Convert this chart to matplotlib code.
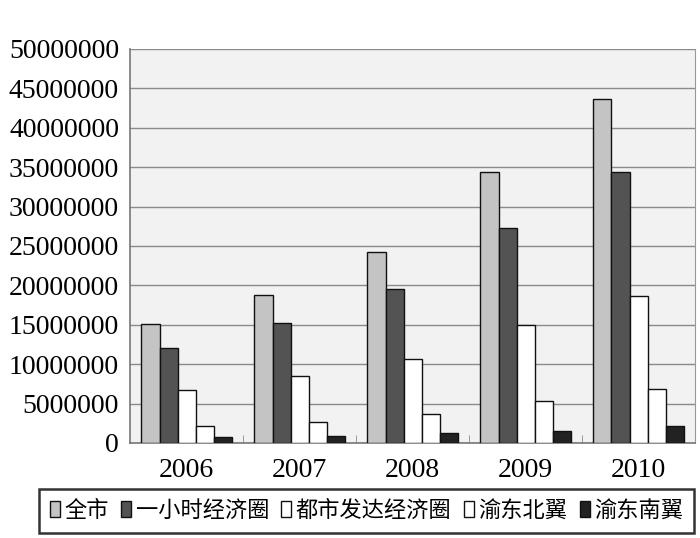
import matplotlib
matplotlib.use("Agg")
import matplotlib.pyplot as plt
import numpy as np
from matplotlib.ticker import FixedLocator

years = ["2006", "2007", "2008", "2009", "2010"]
series_names = ["全市", "一小时经济圈", "都市发达经济圈", "渝东北翼", "渝东南翼"]
quanshi = [15050000, 18800000, 24200000, 34350000, 43600000]
yixiaoshi = [12050000, 15200000, 19500000, 27300000, 34350000]
dushi = [6700000, 8500000, 10700000, 15000000, 18600000]
yudongbei = [2160000, 2660000, 3700000, 5370000, 6800000]
yudongnan = [760000, 930000, 1300000, 1570000, 2100000]
yticks = [0, 5000000, 10000000, 15000000, 20000000, 25000000,
          30000000, 35000000, 40000000, 45000000, 50000000]

series = [quanshi, yixiaoshi, dushi, yudongbei, yudongnan]
colors = ["#c4c4c4", "#535353", "#ffffff", "#ffffff", "#222222"]

plt.rcParams['font.family'] = ['Liberation Serif', 'Noto Sans CJK SC']

fig = plt.figure(figsize=(7.0, 5.38), dpi=100)
ax = fig.add_axes([0.186, 0.1766, 0.807, 0.7324])
ax.set_facecolor("#f2f2f2")

x = np.arange(len(years))
w = 0.16
for i, (vals, c, name) in enumerate(zip(series, colors, series_names)):
    ax.bar(x + (i - 2) * w, vals, width=w, color=c, edgecolor="#111111",
           linewidth=1.0, label=name, zorder=3)

ax.set_xlim(-0.5, len(years) - 0.5)
ax.set_ylim(0, 50000000)
ax.set_yticks(yticks)
ax.set_yticklabels([str(v) for v in yticks], fontsize=20)
ax.set_xticks(x)
ax.set_xticklabels(years, fontsize=20)
ax.xaxis.set_minor_locator(FixedLocator(np.arange(0.5, len(years) - 0.5, 1)))
ax.tick_params(axis='x', which='major', length=0, pad=11)
ax.tick_params(axis='x', which='minor', length=6, direction='in', color='#888888')
ax.tick_params(axis='y', length=0, pad=8)
ax.yaxis.grid(True, color="#8a8a8a", linewidth=1.0, zorder=0)
ax.set_axisbelow(True)
ax.spines["top"].set_visible(False)
ax.spines["left"].set_color("#777777")
ax.spines["right"].set_color("#999999")
ax.spines["bottom"].set_color("#777777")
ax.spines["left"].set_linewidth(1.2)
ax.spines["bottom"].set_linewidth(1.2)

leg = fig.legend(loc="center", bbox_to_anchor=(0.5236, 0.05), ncol=5,
                 fontsize=16, frameon=True, fancybox=False,
                 handlelength=0.45, handleheight=0.7, handletextpad=0.2,
                 columnspacing=0.55, borderpad=0.5, borderaxespad=0.0)
leg.get_frame().set_edgecolor("black")
leg.get_frame().set_linewidth(1.8)

fig.savefig("out.png", dpi=100)
